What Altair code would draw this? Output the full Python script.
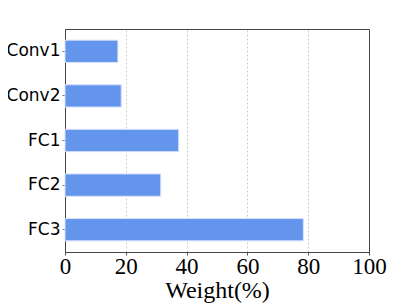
import altair as alt
import pandas as pd

layers = ["Conv1", "Conv2", "FC1", "FC2", "FC3"]
weights = [17.4, 18.5, 37.4, 31.5, 78.4]

df = pd.DataFrame({"layer": layers, "weight": weights})

chart = alt.Chart(df).mark_bar(
    color="#6495ED", stroke="#d6e2fa", strokeWidth=1
).encode(
    x=alt.X("weight:Q", scale=alt.Scale(domain=[0, 100], nice=False),
            axis=alt.Axis(values=[0, 20, 40, 60, 80, 100], title="Weight(%)",
                          labelFont="Liberation Serif", labelFontSize=23,
                          titleFont="Liberation Serif", titleFontSize=24,
                          titleFontWeight="normal", labelColor="#000", titleColor="#000",
                          grid=True, gridColor="#cccccc", gridDash=[2, 2], gridWidth=1,
                          gridOpacity={"condition": {"test": "datum.value == 0 || datum.value == 100", "value": 0}, "value": 1},
                          domain=True, domainColor="#444", tickSize=3, tickColor="#555",
                          labelPadding=0, titlePadding=0, labelFlush=False)),
    y=alt.Y("layer:N", sort=layers,
            scale=alt.Scale(paddingInner=0.5, paddingOuter=0.25),
            axis=alt.Axis(title=None, labelFont="DejaVu Sans", labelFontSize=17,
                          labelColor="#000", domain=True, domainColor="#444",
                          tickSize=3, tickColor="#777",
                          labelPadding=2, grid=False))
).properties(
    width=304, height=223,
    autosize=alt.AutoSizeParams(type="none"),
    padding={"left": 57, "top": 21, "right": 34, "bottom": 56}
).configure_view(
    stroke="#444", strokeWidth=1
)

chart.save("out.html", embed_options={"renderer": "svg", "actions": False})
